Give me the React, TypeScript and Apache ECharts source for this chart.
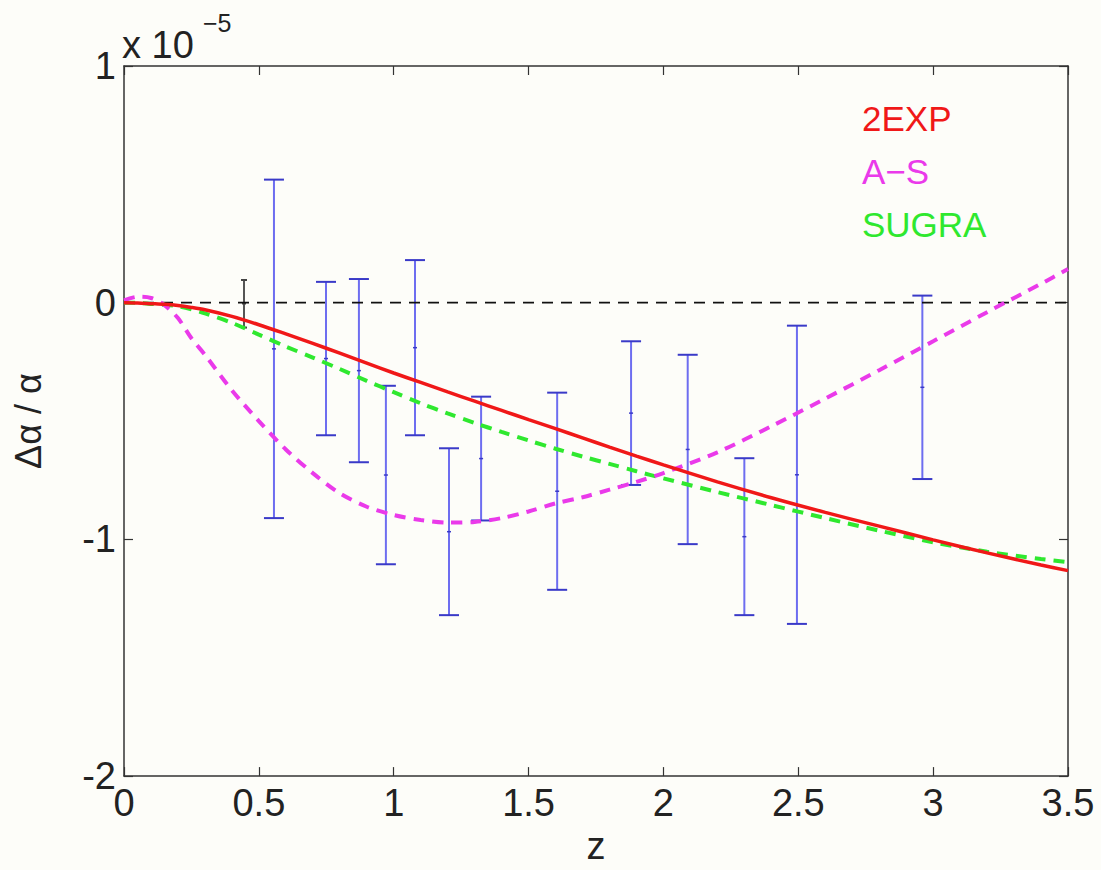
import React, { useEffect, useRef } from "react";
import * as echarts from "echarts";

// z sample points for model curves
const zGrid = [0, 0.05, 0.1, 0.15, 0.2, 0.25, 0.3, 0.4, 0.5, 0.6, 0.7, 0.8, 0.9, 1.0, 1.1, 1.2, 1.3, 1.4, 1.5, 1.6, 1.7, 1.8, 1.9, 2.0, 2.2, 2.4, 2.6, 2.8, 3.0, 3.2, 3.4, 3.5];
// model curves (units of 1e-5)
const exp2 = [0, -0.001, -0.004, -0.007, -0.012, -0.02, -0.03, -0.058, -0.093, -0.132, -0.172, -0.213, -0.255, -0.297, -0.337, -0.377, -0.416, -0.455, -0.494, -0.532, -0.571, -0.61, -0.648, -0.685, -0.757, -0.824, -0.886, -0.944, -1.002, -1.057, -1.108, -1.132];
const aS = [0.01, 0.025, 0.02, -0.01, -0.065, -0.15, -0.22, -0.37, -0.5, -0.62, -0.72, -0.805, -0.862, -0.897, -0.918, -0.929, -0.926, -0.91, -0.882, -0.848, -0.822, -0.79, -0.757, -0.72, -0.632, -0.522, -0.405, -0.285, -0.163, -0.04, 0.08, 0.142];
const sugra = [0, -0.001, -0.005, -0.009, -0.015, -0.028, -0.045, -0.085, -0.135, -0.185, -0.232, -0.28, -0.33, -0.378, -0.425, -0.468, -0.508, -0.546, -0.582, -0.617, -0.65, -0.681, -0.712, -0.742, -0.8, -0.855, -0.91, -0.963, -1.012, -1.052, -1.083, -1.096];

// error bar data
const errZ = [0.445, 0.556, 0.749, 0.871, 0.971, 1.079, 1.205, 1.324, 1.606, 1.88, 2.09, 2.30, 2.495, 2.96];
const errHigh = [0.096, 0.52, 0.088, 0.10, -0.351, 0.18, -0.615, -0.397, -0.38, -0.163, -0.22, -0.657, -0.097, 0.03];
const errLow = [-0.105, -0.91, -0.56, -0.674, -1.105, -0.56, -1.32, -0.92, -1.213, -0.77, -1.02, -1.32, -1.357, -0.745];

const xTicks = [0, 0.5, 1, 1.5, 2, 2.5, 3, 3.5];
const yTicks = [-2, -1, 0, 1];
const legendNames = ["2EXP", "A\u2212S", "SUGRA"];

const FONT = "'Liberation Sans', Arial, Helvetica, sans-serif";
const RED = "#f01818";
const MAG = "#ea3aea";
const GRN = "#2fe82f";

export default function App() {
  const ref = useRef<HTMLDivElement>(null);
  useEffect(() => {
    if (!ref.current) return;
    const chart = echarts.init(ref.current, null, { renderer: "svg" });
    const zip = (ys: number[]) => zGrid.map((z, i) => [z, ys[i]]);
    const axisLine = { show: true, onZero: false, lineStyle: { color: "#333", width: 1.5 } };
    const tick = { show: true, inside: true, length: 9, lineStyle: { color: "#333", width: 1.2 } };
    const option: any = {
      animation: false,
      backgroundColor: "#fdfdf9",
      grid: { left: 124, right: 33, top: 66, bottom: 87, containLabel: false },
      legend: {
        orient: "vertical",
        left: 852,
        top: 96,
        itemGap: 18,
        itemWidth: 0,
        itemHeight: 0,
        selectedMode: false,
        data: [
          { name: legendNames[0], icon: "none", textStyle: { color: RED } },
          { name: legendNames[1], icon: "none", textStyle: { color: MAG } },
          { name: legendNames[2], icon: "none", textStyle: { color: GRN } },
        ],
        textStyle: { fontSize: 35, fontFamily: FONT },
      },
      xAxis: [
        {
          type: "value",
          min: 0,
          max: 3.5,
          interval: 0.5,
          name: "z",
          nameLocation: "middle",
          nameGap: 50,
          nameTextStyle: { fontSize: 38, color: "#222", fontFamily: FONT },
          axisLine,
          axisTick: tick,
          splitLine: { show: false },
          axisLabel: {
            fontSize: 38,
            color: "#222",
            fontFamily: FONT,
            margin: 8,
            formatter: (v: number) => (xTicks.includes(v) ? String(v) : ""),
          },
        },
        {
          type: "value",
          position: "top",
          min: 0,
          max: 3.5,
          interval: 0.5,
          axisLine,
          axisTick: tick,
          axisLabel: { show: false },
          splitLine: { show: false },
        },
      ],
      yAxis: [
        {
          type: "value",
          min: -2,
          max: 1,
          interval: 1,
          name: "\u0394\u03b1 / \u03b1",
          nameLocation: "middle",
          nameGap: 78,
          nameRotate: 90,
          nameTextStyle: { fontSize: 36, color: "#222", fontFamily: FONT },
          axisLine,
          axisTick: tick,
          splitLine: { show: false },
          axisLabel: {
            fontSize: 38,
            color: "#222",
            fontFamily: FONT,
            margin: 8,
            formatter: (v: number) => (yTicks.includes(v) ? String(v) : ""),
          },
        },
        {
          type: "value",
          position: "right",
          min: -2,
          max: 1,
          interval: 1,
          axisLine,
          axisTick: tick,
          axisLabel: { show: false },
          splitLine: { show: false },
        },
      ],
      graphic: [
        {
          type: "text",
          left: 122,
          top: 26,
          style: { text: "x 10", fontSize: 38, fill: "#222", font: `38px ${FONT}` },
        },
        {
          type: "text",
          left: 203,
          top: 10,
          style: { text: "\u22125", fontSize: 25, fill: "#222", font: `25px ${FONT}` },
        },
      ],
      series: [
        {
          name: "errors",
          type: "custom",
          xAxisIndex: 0,
          yAxisIndex: 0,
          z: 2,
          data: errZ.map((z, i) => [z, errLow[i], errHigh[i]]),
          encode: { x: 0, y: [1, 2] },
          renderItem: (params: any, api: any) => {
            const x = api.value(0);
            const lo = api.value(1);
            const hi = api.value(2);
            const pLo = api.coord([x, lo]);
            const pHi = api.coord([x, hi]);
            const pMid = api.coord([x, (lo + hi) / 2]);
            const first = params.dataIndex === 0;
            const col = first ? "#555" : "#6d6df0";
            const capCol = first ? "#444" : "#3a3ac8";
            const cw = first ? 3 : 10;
            return {
              type: "group",
              children: [
                { type: "line", shape: { x1: pHi[0], y1: pHi[1], x2: pLo[0], y2: pLo[1] }, style: { stroke: col, lineWidth: 2 } },
                { type: "line", shape: { x1: pHi[0] - cw, y1: pHi[1], x2: pHi[0] + cw, y2: pHi[1] }, style: { stroke: capCol, lineWidth: 2 } },
                { type: "line", shape: { x1: pLo[0] - cw, y1: pLo[1], x2: pLo[0] + cw, y2: pLo[1] }, style: { stroke: capCol, lineWidth: 2 } },
                { type: "line", shape: { x1: pMid[0] - 2, y1: pMid[1], x2: pMid[0] + 2, y2: pMid[1] }, style: { stroke: capCol, lineWidth: 1.5 } },
              ],
            };
          },
        },
        {
          name: "zero",
          type: "line",
          data: [[0, 0], [3.5, 0]],
          symbol: "none",
          z: 3,
          lineStyle: { color: "#111", width: 1.8, type: [11, 8] },
        },
        {
          name: legendNames[2],
          type: "line",
          data: zip(sugra),
          smooth: 0.3,
          symbol: "none",
          z: 4,
          lineStyle: { color: GRN, width: 4, type: [11, 8] },
        },
        {
          name: legendNames[1],
          type: "line",
          data: zip(aS),
          smooth: 0.3,
          symbol: "none",
          z: 5,
          lineStyle: { color: MAG, width: 4, type: [11, 8] },
        },
        {
          name: legendNames[0],
          type: "line",
          data: zip(exp2),
          smooth: 0.3,
          symbol: "none",
          z: 6,
          lineStyle: { color: RED, width: 3.5 },
        },
      ],
    };
    chart.setOption(option);
    return () => chart.dispose();
  }, []);
  return (
    <div
      ref={ref}
      style={{ position: "fixed", left: 0, top: 0, width: 1101, height: 870 }}
    />
  );
}
